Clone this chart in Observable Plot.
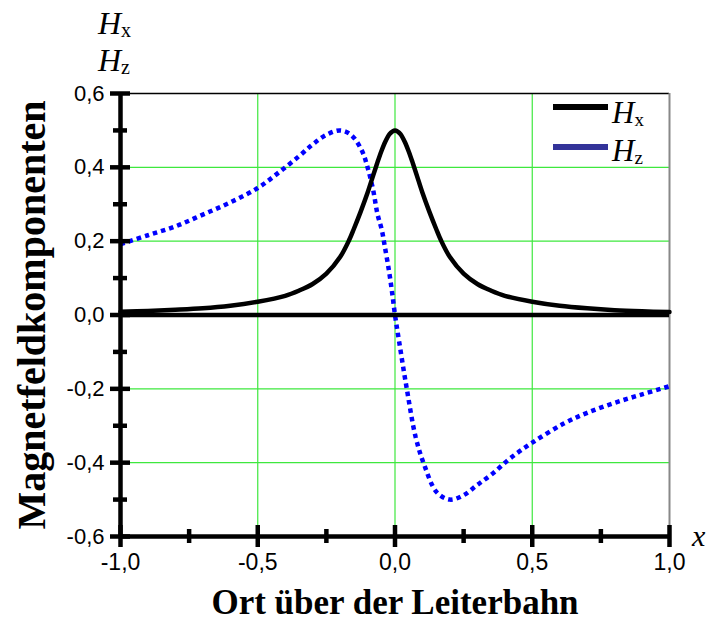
<!DOCTYPE html>
<html><head><meta charset="utf-8">
<script src="https://cdn.jsdelivr.net/npm/d3@7"></script>
<script src="https://cdn.jsdelivr.net/npm/@observablehq/plot@0.6"></script>
<style>body{margin:0;background:#fff} svg{display:block}</style>
</head><body><div id="chart"></div>
<script>
// Hx (solid black) and Hz (blue dotted)
const hxX = [-1,-0.9,-0.8,-0.7,-0.6,-0.5,-0.4,-0.35,-0.3,-0.25,-0.2,-0.167,-0.15,-0.125,-0.1,-0.08,-0.065,-0.05,-0.035,-0.02,-0.01,0,0.01,0.02,0.035,0.05,0.065,0.08,0.1,0.125,0.15,0.167,0.2,0.25,0.3,0.35,0.4,0.5,0.6,0.7,0.8,0.9,1];
const hxY = [0.009,0.011,0.014,0.018,0.025,0.036,0.052,0.066,0.084,0.112,0.157,0.203,0.233,0.280,0.331,0.377,0.411,0.443,0.470,0.490,0.497,0.500,0.497,0.490,0.470,0.443,0.411,0.377,0.331,0.280,0.233,0.203,0.157,0.112,0.084,0.066,0.052,0.036,0.025,0.018,0.013,0.010,0.008];
const hzX = [-1,-0.9,-0.8,-0.7,-0.6,-0.5,-0.42,-0.35,-0.3,-0.25,-0.2,-0.16,-0.12,-0.1,-0.08,-0.064,-0.048,-0.0375,-0.022,-0.01,0,0.015,0.043,0.075,0.106,0.152,0.2,0.25,0.3,0.355,0.42,0.5,0.615,0.7,0.8,0.9,1];
const hzY = [0.192,0.216,0.240,0.272,0.305,0.344,0.388,0.430,0.462,0.488,0.500,0.488,0.444,0.400,0.340,0.274,0.230,0.187,0.120,0.058,0,-0.072,-0.200,-0.330,-0.405,-0.480,-0.500,-0.488,-0.460,-0.430,-0.388,-0.346,-0.294,-0.265,-0.238,-0.215,-0.193];

const xMajorTicks = [-1,-0.5,0,0.5,1];
const xMinorTicks = [-0.75,-0.25,0.25,0.75];
const yMajorTicks = [-0.6,-0.4,-0.2,0,0.2,0.4,0.6];
const yMinorTicks = [-0.5,-0.3,-0.1,0.1,0.3,0.5];
const gridXTicks = [-0.5,0,0.5];
const gridYTicks = [-0.4,-0.2,0.2,0.4];

const xTitle = "Ort über der Leiterbahn";
const yTitle = "Magnetfeldkomponenten";

const hx = hxX.map((x,i) => ({x, y: hxY[i]}));
const hz = hzX.map((x,i) => ({x, y: hzY[i]}));
const fmt = d => d.toFixed(1).replace(".", ",");
const green = "#3ee83e";
const serif = "'Liberation Serif', 'Times New Roman', serif";

const plot = Plot.plot({
  width: 708, height: 623,
  marginLeft: 120, marginRight: 39, marginTop: 93, marginBottom: 87,
  x: {domain: [-1, 1], axis: null},
  y: {domain: [-0.6, 0.6], axis: null},
  style: {fontFamily: "'Liberation Sans', Arial, sans-serif", background: "white", overflow: "visible", color: "black"},
  marks: [
    Plot.gridX(gridXTicks, {stroke: green, strokeOpacity: 1, strokeWidth: 1.2}),
    Plot.gridY(gridYTicks, {stroke: green, strokeOpacity: 1, strokeWidth: 1.2}),
    Plot.ruleY([0.6], {stroke: "black", strokeWidth: 1.5}),
    Plot.ruleX([1], {stroke: "#888", strokeWidth: 2}),
    Plot.line(hz, {x: "x", y: "y", stroke: "#0000ff", strokeWidth: 4.5, strokeDasharray: "4.5,4", strokeLinecap: "butt", strokeLinejoin: "miter", curve: "catmull-rom"}),
    Plot.line(hx, {x: "x", y: "y", stroke: "black", strokeWidth: 4.5, curve: "catmull-rom"}),
    Plot.ruleY([0], {stroke: "black", strokeWidth: 4.5}),
    Plot.ruleX([-1], {stroke: "black", strokeWidth: 4.5}),
    Plot.ruleY([-0.6], {stroke: "black", strokeWidth: 4.5}),
    Plot.axisY(yMajorTicks, {tickSize: 20, dx: 10, strokeWidth: 4.5, fill: "none", label: null}),
    Plot.axisY(yMinorTicks, {tickSize: 14, dx: 7, strokeWidth: 4.5, fill: "none", label: null}),
    Plot.axisY(yMajorTicks, {tickSize: 0, tickPadding: 16, stroke: "none", tickFormat: fmt, label: null, fontSize: 22}),
    Plot.axisX(xMajorTicks, {tickSize: 22, dy: -11, strokeWidth: 4.5, fill: "none", label: null}),
    Plot.axisX(xMinorTicks, {tickSize: 14, dy: -7, strokeWidth: 4.5, fill: "none", label: null}),
    Plot.axisX(xMajorTicks, {tickSize: 0, tickPadding: 17, stroke: "none", tickFormat: fmt, label: null, fontSize: 23}),
    Plot.text([xTitle], {frameAnchor: "bottom", dy: 77, fontFamily: serif, fontWeight: "bold", fontSize: 35, fill: "black"}),
    Plot.text([yTitle], {frameAnchor: "left", textAnchor: "middle", dx: -88, rotate: -90, fontFamily: serif, fontWeight: "bold", fontSize: 40, fill: "black"})
  ]
});
document.getElementById("chart").appendChild(plot);

const svg = d3.select(plot);
function subLabel(x, y, main, sub, size) {
  const t = svg.append("text").attr("x", x).attr("y", y).attr("text-anchor", "start")
    .attr("font-family", serif).attr("font-size", size).attr("fill", "black");
  t.append("tspan").attr("font-style", "italic").text(main);
  t.append("tspan").attr("font-size", Math.round(size * 0.62)).attr("dy", 3).text(sub);
}
subLabel(98, 34, "H", "x", 32);
subLabel(98, 71, "H", "z", 32);
// legend
svg.append("line").attr("x1", 553).attr("x2", 608).attr("y1", 107).attr("y2", 107).attr("stroke", "black").attr("stroke-width", 6);
svg.append("line").attr("x1", 553).attr("x2", 608).attr("y1", 147).attr("y2", 147).attr("stroke", "#333399").attr("stroke-width", 6);
subLabel(612, 123, "H", "x", 31);
subLabel(612, 161, "H", "z", 31);
// axis variable
svg.append("text").attr("x", 692).attr("y", 546).attr("text-anchor", "start").attr("font-family", serif).attr("font-style", "italic")
  .attr("font-size", 30).attr("fill", "black").text("x");
</script>
</body></html>
